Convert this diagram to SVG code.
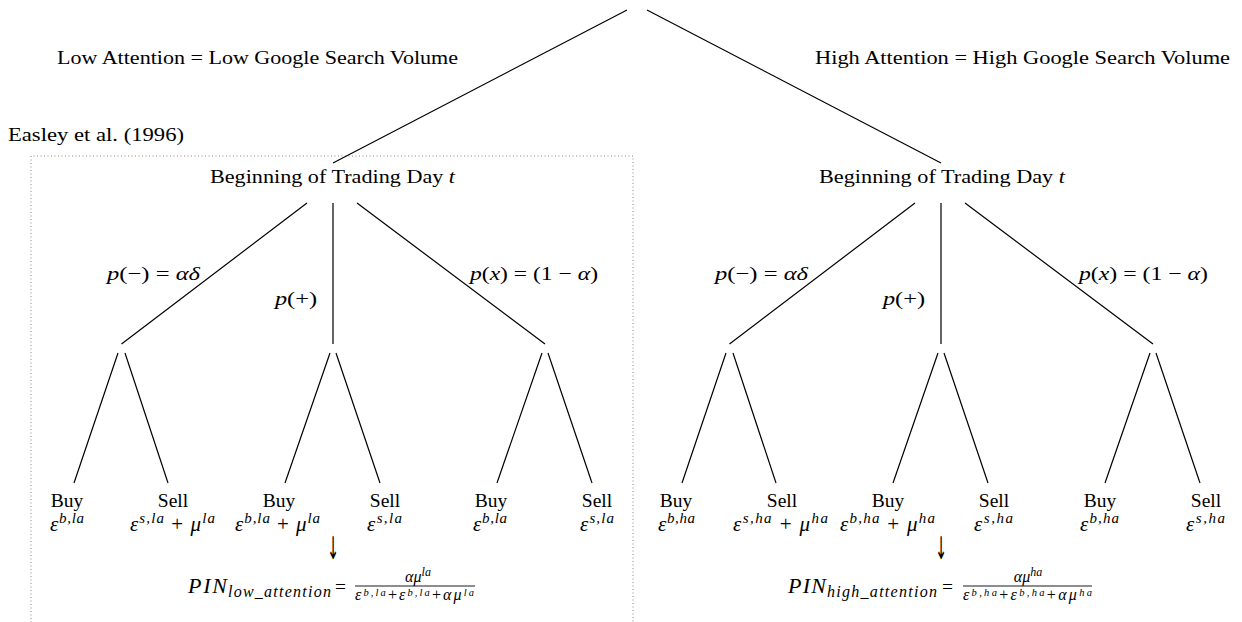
<svg xmlns="http://www.w3.org/2000/svg" width="1242" height="622" viewBox="0 0 1242 622">
<style>
.t{font-family:"Liberation Serif","DejaVu Serif",serif;font-size:19.5px;fill:#000;}
.i{font-style:italic;}
.m{font-size:21px;}
.s{font-size:15px;}
.f{font-size:16px;}
.fs{font-size:12px;}
.fd{font-size:10.5px;}
.ln{stroke:#000;stroke-width:1.2;fill:none;}
.dot{stroke:#888;stroke-width:1;stroke-dasharray:1 2.5;fill:none;}
.arr{font-family:"DejaVu Sans",sans-serif;font-size:24px;fill:#000;}
</style>
<rect width="1242" height="622" fill="#fff"/>
<path id="easley-box" class="dot" d="M31,640 V156 H633 V640"/>
<g id="connectors">
<path class="ln" d="M627,10 L333,163 M647,10 L941,163"/>
<path class="ln" d="M307,203 L121.5,344 M333,203 L333,344 M357,203 L545,344"/>
<path class="ln" d="M915,203 L729.5,344 M941,203 L941,344 M965,203 L1153,344"/>
<path class="ln" d="M118,353 L74,483 M125,353 L168,483 M330,353 L285,483 M336,353 L380,483 M542,353 L497,483 M548,353 L592,483"/>
<path class="ln" d="M726,353 L682,483 M733,353 L776,483 M938,353 L893,483 M944,353 L988,483 M1150,353 L1105,483 M1156,353 L1200,483"/>
</g>
<g id="label-low"><text class="t" x="57" y="64" textLength="401" lengthAdjust="spacingAndGlyphs">Low Attention = Low Google Search Volume</text></g>
<g id="label-high"><text class="t" x="815" y="64" textLength="415" lengthAdjust="spacingAndGlyphs">High Attention = High Google Search Volume</text></g>
<g id="easley"><text class="t" x="8" y="141" textLength="176" lengthAdjust="spacingAndGlyphs">Easley et al. (1996)</text></g>
<g id="begin-low"><text class="t" x="210" y="183" textLength="245" lengthAdjust="spacingAndGlyphs">Beginning of Trading Day <tspan class="i">t</tspan></text></g>
<g id="begin-high"><text class="t" x="819" y="183" textLength="246" lengthAdjust="spacingAndGlyphs">Beginning of Trading Day <tspan class="i">t</tspan></text></g>
<g id="prob-low">
<text class="t" x="107" y="280" textLength="93" lengthAdjust="spacingAndGlyphs"><tspan class="i">p</tspan>(−) = <tspan class="i">αδ</tspan></text>
<text class="t" x="275" y="305" textLength="42" lengthAdjust="spacingAndGlyphs"><tspan class="i">p</tspan>(+)</text>
<text class="t" x="470" y="280" textLength="128" lengthAdjust="spacingAndGlyphs"><tspan class="i">p</tspan>(<tspan class="i">x</tspan>) = (1 − <tspan class="i">α</tspan>)</text>
</g>
<g id="prob-high">
<text class="t" x="715" y="280" textLength="93" lengthAdjust="spacingAndGlyphs"><tspan class="i">p</tspan>(−) = <tspan class="i">αδ</tspan></text>
<text class="t" x="883" y="305" textLength="42" lengthAdjust="spacingAndGlyphs"><tspan class="i">p</tspan>(+)</text>
<text class="t" x="1079" y="280" textLength="129" lengthAdjust="spacingAndGlyphs"><tspan class="i">p</tspan>(<tspan class="i">x</tspan>) = (1 − <tspan class="i">α</tspan>)</text>
</g>
<g id="leaves-low">
<text class="t" x="67" y="507" text-anchor="middle">Buy</text>
<text class="t m" x="50" y="531" textLength="34" lengthAdjust="spacing"><tspan class="i">ε</tspan><tspan class="i s" dy="-8">b,la</tspan></text>
<text class="t" x="173" y="507" text-anchor="middle">Sell</text>
<text class="t m" x="130" y="531" textLength="85" lengthAdjust="spacing"><tspan class="i">ε</tspan><tspan class="i s" dy="-8">s,la</tspan><tspan dy="8"> + </tspan><tspan class="i">μ</tspan><tspan class="i s" dy="-8">la</tspan></text>
<text class="t" x="279" y="507" text-anchor="middle">Buy</text>
<text class="t m" x="235" y="531" textLength="85" lengthAdjust="spacing"><tspan class="i">ε</tspan><tspan class="i s" dy="-8">b,la</tspan><tspan dy="8"> + </tspan><tspan class="i">μ</tspan><tspan class="i s" dy="-8">la</tspan></text>
<text class="t" x="385" y="507" text-anchor="middle">Sell</text>
<text class="t m" x="367" y="531" textLength="35" lengthAdjust="spacing"><tspan class="i">ε</tspan><tspan class="i s" dy="-8">s,la</tspan></text>
<text class="t" x="491" y="507" text-anchor="middle">Buy</text>
<text class="t m" x="473" y="531" textLength="34" lengthAdjust="spacing"><tspan class="i">ε</tspan><tspan class="i s" dy="-8">b,la</tspan></text>
<text class="t" x="597" y="507" text-anchor="middle">Sell</text>
<text class="t m" x="580" y="531" textLength="34" lengthAdjust="spacing"><tspan class="i">ε</tspan><tspan class="i s" dy="-8">s,la</tspan></text>
</g>
<g id="leaves-high">
<text class="t" x="676" y="507" text-anchor="middle">Buy</text>
<text class="t m" x="658" y="531" textLength="37" lengthAdjust="spacing"><tspan class="i">ε</tspan><tspan class="i s" dy="-8">b,ha</tspan></text>
<text class="t" x="782" y="507" text-anchor="middle">Sell</text>
<text class="t m" x="733" y="531" textLength="95" lengthAdjust="spacing"><tspan class="i">ε</tspan><tspan class="i s" dy="-8">s,ha</tspan><tspan dy="8"> + </tspan><tspan class="i">μ</tspan><tspan class="i s" dy="-8">ha</tspan></text>
<text class="t" x="888" y="507" text-anchor="middle">Buy</text>
<text class="t m" x="840" y="531" textLength="95" lengthAdjust="spacing"><tspan class="i">ε</tspan><tspan class="i s" dy="-8">b,ha</tspan><tspan dy="8"> + </tspan><tspan class="i">μ</tspan><tspan class="i s" dy="-8">ha</tspan></text>
<text class="t" x="994" y="507" text-anchor="middle">Sell</text>
<text class="t m" x="974" y="531" textLength="39" lengthAdjust="spacing"><tspan class="i">ε</tspan><tspan class="i s" dy="-8">s,ha</tspan></text>
<text class="t" x="1100" y="507" text-anchor="middle">Buy</text>
<text class="t m" x="1080" y="531" textLength="39" lengthAdjust="spacing"><tspan class="i">ε</tspan><tspan class="i s" dy="-8">b,ha</tspan></text>
<text class="t" x="1206" y="507" text-anchor="middle">Sell</text>
<text class="t m" x="1186" y="531" textLength="39" lengthAdjust="spacing"><tspan class="i">ε</tspan><tspan class="i s" dy="-8">s,ha</tspan></text>
</g>
<g id="pin-low">
<text class="arr" transform="translate(333,559) scale(0.6,1.3)" x="0" y="0" text-anchor="middle">↓</text>
<text class="t i" x="188" y="593" style="font-size:22px" textLength="39" lengthAdjust="spacing">PIN</text>
<text class="t i" x="228" y="597" style="font-size:16px" textLength="103" lengthAdjust="spacing">low_attention</text>
<text class="t" x="335" y="593">=</text>
<text class="t f" x="418" y="582" text-anchor="middle"><tspan class="i">αμ</tspan><tspan class="i fs" dy="-6">la</tspan></text>
<line class="ln" x1="355" y1="586" x2="475" y2="586" style="stroke-width:0.9"/>
<text class="t f" x="355" y="600" textLength="119" lengthAdjust="spacing"><tspan class="i">ε</tspan><tspan class="i fd" dy="-4">b,la</tspan><tspan dy="4">+</tspan><tspan class="i">ε</tspan><tspan class="i fd" dy="-4">b,la</tspan><tspan dy="4">+</tspan><tspan class="i">αμ</tspan><tspan class="i fd" dy="-4">la</tspan></text>
</g>
<g id="pin-high">
<text class="arr" transform="translate(941,559) scale(0.6,1.3)" x="0" y="0" text-anchor="middle">↓</text>
<text class="t i" x="788" y="593" style="font-size:22px" textLength="38" lengthAdjust="spacing">PIN</text>
<text class="t i" x="827" y="597" style="font-size:16px" textLength="110" lengthAdjust="spacing">high_attention</text>
<text class="t" x="942" y="593">=</text>
<text class="t f" x="1028" y="582" text-anchor="middle"><tspan class="i">αμ</tspan><tspan class="i fs" dy="-6">ha</tspan></text>
<line class="ln" x1="963" y1="586" x2="1092" y2="586" style="stroke-width:0.9"/>
<text class="t f" x="963" y="600" textLength="129" lengthAdjust="spacing"><tspan class="i">ε</tspan><tspan class="i fd" dy="-4">b,ha</tspan><tspan dy="4">+</tspan><tspan class="i">ε</tspan><tspan class="i fd" dy="-4">b,ha</tspan><tspan dy="4">+</tspan><tspan class="i">αμ</tspan><tspan class="i fd" dy="-4">ha</tspan></text>
</g>
</svg>
